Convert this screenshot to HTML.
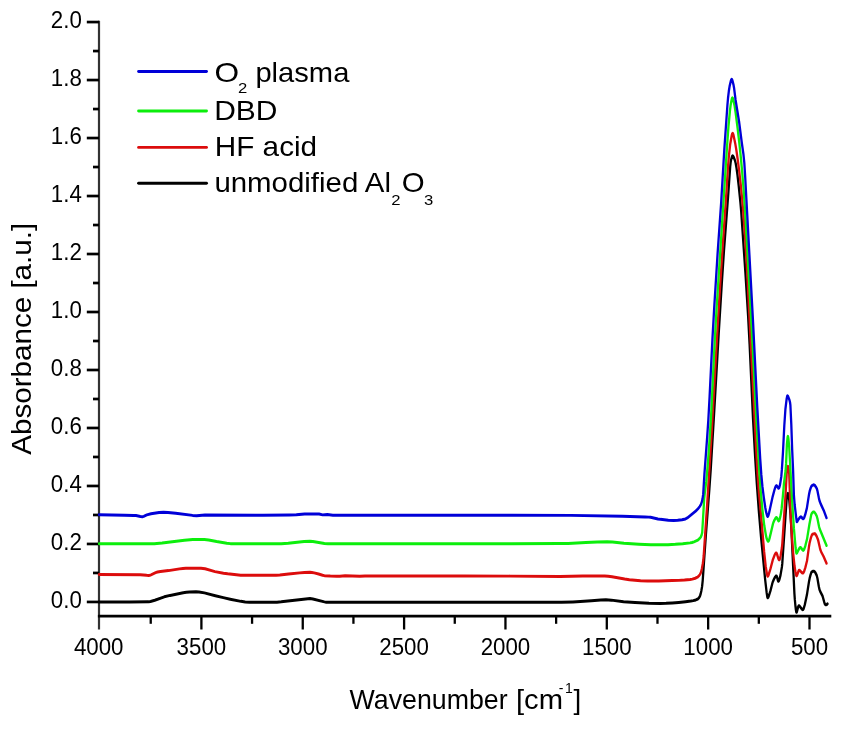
<!DOCTYPE html>
<html><head><meta charset="utf-8"><title>FTIR spectra</title>
<style>
html,body{margin:0;padding:0;background:#fff;}
svg{display:block;}
.wrap{width:844px;height:734px;}
text{font-family:"Liberation Sans",Arial,sans-serif;fill:#000;}
.tk{font-size:22.3px;}
.lg{font-size:27.5px;}
.sb{font-size:14.5px;}
.tt{font-size:27.8px;}
.sp{font-size:14px;}
</style></head>
<body>
<div class="wrap">
<svg width="844" height="734" viewBox="0 0 844 734">
<rect width="844" height="734" fill="#fff"/>
<line x1="99.0" y1="20.8" x2="99.0" y2="629.6" stroke="#333" stroke-width="2.2"/>
<line x1="97.9" y1="616.1" x2="831.3" y2="616.1" stroke="#000" stroke-width="2.9"/>
<line x1="86.8" y1="601.95" x2="99.0" y2="601.95" stroke="#000" stroke-width="2.7"/>
<text transform="translate(81.8,607.95) scale(1,1.08)" class="tk" text-anchor="end">0.0</text>
<line x1="93.0" y1="572.96" x2="99.0" y2="572.96" stroke="#000" stroke-width="2.7"/>
<line x1="86.8" y1="543.96" x2="99.0" y2="543.96" stroke="#000" stroke-width="2.7"/>
<text transform="translate(81.8,549.96) scale(1,1.08)" class="tk" text-anchor="end">0.2</text>
<line x1="93.0" y1="514.97" x2="99.0" y2="514.97" stroke="#000" stroke-width="2.7"/>
<line x1="86.8" y1="485.97" x2="99.0" y2="485.97" stroke="#000" stroke-width="2.7"/>
<text transform="translate(81.8,491.97) scale(1,1.08)" class="tk" text-anchor="end">0.4</text>
<line x1="93.0" y1="456.98" x2="99.0" y2="456.98" stroke="#000" stroke-width="2.7"/>
<line x1="86.8" y1="427.98" x2="99.0" y2="427.98" stroke="#000" stroke-width="2.7"/>
<text transform="translate(81.8,433.98) scale(1,1.08)" class="tk" text-anchor="end">0.6</text>
<line x1="93.0" y1="398.99" x2="99.0" y2="398.99" stroke="#000" stroke-width="2.7"/>
<line x1="86.8" y1="369.99" x2="99.0" y2="369.99" stroke="#000" stroke-width="2.7"/>
<text transform="translate(81.8,375.99) scale(1,1.08)" class="tk" text-anchor="end">0.8</text>
<line x1="93.0" y1="341.00" x2="99.0" y2="341.00" stroke="#000" stroke-width="2.7"/>
<line x1="86.8" y1="312.00" x2="99.0" y2="312.00" stroke="#000" stroke-width="2.7"/>
<text transform="translate(81.8,318.00) scale(1,1.08)" class="tk" text-anchor="end">1.0</text>
<line x1="93.0" y1="283.01" x2="99.0" y2="283.01" stroke="#000" stroke-width="2.7"/>
<line x1="86.8" y1="254.01" x2="99.0" y2="254.01" stroke="#000" stroke-width="2.7"/>
<text transform="translate(81.8,260.01) scale(1,1.08)" class="tk" text-anchor="end">1.2</text>
<line x1="93.0" y1="225.02" x2="99.0" y2="225.02" stroke="#000" stroke-width="2.7"/>
<line x1="86.8" y1="196.02" x2="99.0" y2="196.02" stroke="#000" stroke-width="2.7"/>
<text transform="translate(81.8,202.02) scale(1,1.08)" class="tk" text-anchor="end">1.4</text>
<line x1="93.0" y1="167.03" x2="99.0" y2="167.03" stroke="#000" stroke-width="2.7"/>
<line x1="86.8" y1="138.03" x2="99.0" y2="138.03" stroke="#000" stroke-width="2.7"/>
<text transform="translate(81.8,144.03) scale(1,1.08)" class="tk" text-anchor="end">1.6</text>
<line x1="93.0" y1="109.04" x2="99.0" y2="109.04" stroke="#000" stroke-width="2.7"/>
<line x1="86.8" y1="80.04" x2="99.0" y2="80.04" stroke="#000" stroke-width="2.7"/>
<text transform="translate(81.8,86.04) scale(1,1.08)" class="tk" text-anchor="end">1.8</text>
<line x1="93.0" y1="51.05" x2="99.0" y2="51.05" stroke="#000" stroke-width="2.7"/>
<line x1="86.8" y1="22.05" x2="99.0" y2="22.05" stroke="#000" stroke-width="2.7"/>
<text transform="translate(81.8,28.05) scale(1,1.08)" class="tk" text-anchor="end">2.0</text>
<line x1="150.73" y1="616.1" x2="150.73" y2="623.8" stroke="#000" stroke-width="2.3"/>
<line x1="201.40" y1="616.1" x2="201.40" y2="629.5" stroke="#000" stroke-width="2.3"/>
<line x1="252.07" y1="616.1" x2="252.07" y2="623.8" stroke="#000" stroke-width="2.3"/>
<line x1="302.75" y1="616.1" x2="302.75" y2="629.5" stroke="#000" stroke-width="2.3"/>
<line x1="353.43" y1="616.1" x2="353.43" y2="623.8" stroke="#000" stroke-width="2.3"/>
<line x1="404.10" y1="616.1" x2="404.10" y2="629.5" stroke="#000" stroke-width="2.3"/>
<line x1="454.77" y1="616.1" x2="454.77" y2="623.8" stroke="#000" stroke-width="2.3"/>
<line x1="505.45" y1="616.1" x2="505.45" y2="629.5" stroke="#000" stroke-width="2.3"/>
<line x1="556.12" y1="616.1" x2="556.12" y2="623.8" stroke="#000" stroke-width="2.3"/>
<line x1="606.80" y1="616.1" x2="606.80" y2="629.5" stroke="#000" stroke-width="2.3"/>
<line x1="657.48" y1="616.1" x2="657.48" y2="623.8" stroke="#000" stroke-width="2.3"/>
<line x1="708.15" y1="616.1" x2="708.15" y2="629.5" stroke="#000" stroke-width="2.3"/>
<line x1="758.82" y1="616.1" x2="758.82" y2="623.8" stroke="#000" stroke-width="2.3"/>
<line x1="809.50" y1="616.1" x2="809.50" y2="629.5" stroke="#000" stroke-width="2.3"/>
<text transform="translate(98.70,654.8) scale(1,1.08)" class="tk" text-anchor="middle">4000</text>
<text transform="translate(201.40,654.8) scale(1,1.08)" class="tk" text-anchor="middle">3500</text>
<text transform="translate(302.75,654.8) scale(1,1.08)" class="tk" text-anchor="middle">3000</text>
<text transform="translate(404.10,654.8) scale(1,1.08)" class="tk" text-anchor="middle">2500</text>
<text transform="translate(505.45,654.8) scale(1,1.08)" class="tk" text-anchor="middle">2000</text>
<text transform="translate(606.80,654.8) scale(1,1.08)" class="tk" text-anchor="middle">1500</text>
<text transform="translate(708.15,654.8) scale(1,1.08)" class="tk" text-anchor="middle">1000</text>
<text transform="translate(809.50,654.8) scale(1,1.08)" class="tk" text-anchor="middle">500</text>
<g transform="translate(0,0.3) scale(1,1.3)">
<polyline fill="none" stroke="#000000" stroke-width="2.3" stroke-linejoin="round" stroke-linecap="round" points="99.0,462.92 129.6,462.88 148.7,462.74 150.5,462.47 154.8,461.52 164.3,458.86 170.1,457.77 183.2,455.74 186.4,455.32 189.6,455.09 196.0,455.00 199.0,455.11 204.4,455.83 215.3,458.04 223.3,459.50 230.2,460.68 240.9,462.35 245.2,462.84 249.4,462.95 268.6,463.07 277.0,463.01 281.2,462.73 307.9,460.34 310.0,460.23 311.4,460.30 312.9,460.52 324.4,462.75 326.2,462.99 327.8,463.08 561.5,463.07 572.9,462.76 591.4,461.86 600.8,461.29 605.9,461.15 611.4,461.41 623.6,462.60 635.0,463.23 649.0,463.84 660.2,464.00 666.1,463.89 672.2,463.64 678.7,463.23 685.6,462.65 690.8,462.15 693.3,461.80 695.8,461.25 697.8,460.56 698.7,459.89 699.6,458.85 700.1,457.98 700.6,456.75 701.3,454.43 702.1,450.92 702.7,446.39 705.9,410.98 709.4,375.69 710.7,361.14 714.1,317.89 718.8,255.12 721.8,217.75 724.0,192.31 728.0,151.81 730.2,127.89 730.6,124.98 731.0,123.08 731.9,120.45 732.3,119.78 732.6,119.62 733.1,119.85 733.6,120.46 735.0,123.31 735.7,125.47 736.5,128.97 737.5,134.60 738.7,142.68 740.4,155.41 741.2,162.58 745.4,209.39 748.1,242.84 749.6,264.43 753.0,321.60 755.0,349.50 756.8,371.51 758.9,393.53 761.0,412.49 765.1,445.24 766.7,455.94 767.3,458.92 767.5,459.43 767.6,459.57 767.8,459.60 768.2,459.29 768.6,458.65 770.4,454.39 772.6,447.74 773.8,445.57 774.9,443.91 775.8,443.01 776.2,442.82 776.6,442.81 777.0,443.54 777.9,446.33 778.2,446.81 778.4,446.83 778.9,446.46 779.4,445.59 780.5,442.24 781.9,435.92 782.3,433.00 786.6,384.11 787.1,381.15 787.5,379.81 787.7,379.39 787.9,379.23 788.1,379.42 788.4,380.29 789.3,384.78 790.5,395.52 791.4,406.90 794.4,456.18 794.8,460.67 795.5,466.36 795.9,468.99 796.3,470.55 796.4,470.71 796.6,470.74 796.9,470.36 798.2,466.55 798.7,465.72 799.2,465.78 799.7,466.09 801.6,468.10 802.4,468.68 802.8,468.77 803.1,468.66 803.7,467.89 804.8,464.98 806.9,457.42 808.9,447.62 809.7,444.46 810.7,441.51 811.4,440.02 811.8,439.62 813.1,439.14 814.0,439.12 814.7,439.55 815.6,440.60 816.7,442.34 817.4,444.51 818.8,450.84 819.5,453.30 820.3,454.88 822.6,458.35 824.3,463.08 824.9,464.40 825.4,464.91 826.0,464.91 826.8,464.73 827.5,464.23"/>
<polyline fill="none" stroke="#dc0c0c" stroke-width="2.3" stroke-linejoin="round" stroke-linecap="round" points="99.0,441.77 140.2,441.85 146.7,442.32 148.8,442.38 149.8,442.26 151.0,441.96 155.6,440.22 157.5,439.72 160.5,439.37 168.5,438.70 179.5,437.37 182.9,437.07 185.9,436.93 201.0,436.92 203.0,437.03 205.1,437.31 215.0,439.48 223.5,440.69 227.7,441.15 236.4,441.90 240.7,442.18 244.4,442.30 276.1,442.27 279.8,442.06 288.6,441.26 299.7,440.44 304.5,440.17 310.0,440.00 311.9,440.11 314.2,440.44 318.6,441.27 322.6,442.26 324.4,442.57 330.3,442.85 336.7,442.99 339.8,442.99 345.1,442.69 359.8,443.08 365.0,442.85 462.7,442.88 510.1,442.94 560.1,443.23 582.9,442.78 604.7,442.85 608.2,443.00 612.0,443.36 624.7,445.18 629.4,445.72 640.6,446.47 647.7,446.69 658.7,446.62 672.2,446.39 678.8,446.21 684.5,445.94 690.1,445.53 692.3,445.24 695.2,444.57 697.5,443.72 698.7,442.92 699.8,441.86 700.5,440.94 701.1,439.65 701.9,437.15 702.8,433.33 703.3,430.64 703.7,427.31 707.2,387.30 711.5,334.66 717.0,259.13 719.9,222.16 722.6,190.01 726.0,152.69 727.9,129.09 728.9,119.71 730.1,111.26 731.7,104.05 732.2,102.69 732.6,102.31 733.0,102.62 733.5,103.73 735.2,109.98 736.3,114.93 737.6,121.95 739.2,131.40 740.7,141.43 742.1,152.18 743.2,162.06 745.2,183.90 747.2,209.42 756.1,344.03 757.7,365.84 758.9,378.13 761.4,399.12 764.1,423.81 765.7,435.31 767.1,441.89 767.4,442.75 767.7,443.08 768.1,442.84 768.5,442.21 770.4,437.44 772.7,430.66 774.5,426.92 775.4,425.55 775.8,425.20 776.1,425.08 776.3,425.09 776.6,425.34 777.1,426.24 778.4,429.52 778.8,430.20 779.1,430.44 779.4,430.39 779.8,429.84 780.6,427.40 781.9,421.00 782.3,417.91 785.5,380.77 786.7,363.94 787.3,360.05 787.6,358.92 787.9,358.46 788.2,358.83 788.6,360.25 789.2,364.11 790.8,398.48 792.4,417.89 793.4,426.96 794.5,434.87 795.3,439.21 796.2,442.34 796.5,442.69 796.7,442.62 797.0,442.30 798.5,439.10 798.8,438.64 799.1,438.40 799.5,438.43 800.0,438.67 801.8,440.19 802.6,440.60 803.0,440.58 803.3,440.41 804.1,439.34 805.3,436.51 807.0,431.22 809.0,420.07 809.7,417.08 810.9,413.51 811.7,411.69 812.3,410.90 813.4,410.43 814.5,410.23 815.1,410.39 815.9,411.17 816.8,412.57 818.1,415.15 819.9,421.26 820.6,423.15 821.5,424.76 823.6,427.86 826.5,433.08"/>
<polyline fill="none" stroke="#0cee0c" stroke-width="2.3" stroke-linejoin="round" stroke-linecap="round" points="99.0,418.08 154.3,418.04 162.1,417.52 184.5,415.26 192.8,414.86 204.5,414.85 206.5,414.92 208.7,415.14 216.6,416.36 226.8,417.62 230.4,417.95 233.6,418.08 281.2,418.05 288.2,417.67 304.1,416.36 309.9,416.08 312.9,416.26 324.5,417.84 328.0,418.08 511.4,418.07 558.9,417.93 568.1,417.76 585.8,417.06 597.3,416.71 607.1,416.54 612.4,416.74 624.0,417.64 639.0,418.34 650.8,418.75 660.7,418.84 668.0,418.72 675.3,418.44 682.7,417.99 690.1,417.37 692.0,417.08 694.0,416.57 696.7,415.66 698.2,414.98 699.6,414.04 700.8,412.83 701.6,411.37 702.2,409.43 704.2,383.54 704.8,378.98 706.3,369.99 708.0,354.91 709.6,337.55 711.2,317.84 714.7,262.52 716.5,238.03 727.0,112.71 728.5,96.72 730.0,84.57 730.6,80.93 731.4,77.42 731.9,75.70 732.2,75.12 732.4,75.00 732.8,75.34 733.2,76.23 734.7,81.60 735.6,86.32 737.6,98.40 739.3,109.65 740.8,120.72 742.2,132.26 743.5,144.42 745.3,164.77 750.5,235.58 752.4,262.62 756.0,317.38 759.3,362.49 760.8,378.18 762.4,391.58 764.3,404.14 766.0,411.91 766.6,413.79 767.4,415.37 768.0,416.10 768.3,416.14 768.5,416.01 769.0,415.23 769.5,413.95 773.0,402.69 773.4,401.73 774.6,399.63 775.7,398.22 776.2,397.90 776.6,397.86 777.1,398.34 778.2,400.18 778.5,400.48 778.8,400.52 779.1,400.27 779.5,399.54 780.4,396.82 781.0,394.56 781.6,391.12 782.8,382.05 783.9,372.33 785.6,361.76 786.1,356.41 786.9,341.83 787.5,336.77 787.7,335.76 787.9,335.38 788.1,335.71 788.4,337.14 789.2,343.63 792.1,384.64 793.9,406.05 795.6,421.17 796.0,423.90 796.3,425.12 796.5,425.38 797.0,425.07 798.4,422.81 799.6,421.33 800.2,420.88 800.6,420.88 801.0,421.12 802.4,422.70 803.0,423.12 803.3,423.14 803.6,423.00 804.3,422.08 805.4,419.44 807.1,414.16 809.4,403.10 811.2,395.87 811.8,394.62 812.7,393.88 813.4,393.57 814.1,393.62 814.8,394.10 815.6,395.04 816.7,396.71 817.4,398.59 819.0,404.68 819.7,406.69 826.5,419.38"/>
<polyline fill="none" stroke="#0000d8" stroke-width="2.3" stroke-linejoin="round" stroke-linecap="round" points="99.0,395.77 124.5,396.06 133.7,396.26 136.0,396.38 140.4,397.09 142.4,397.23 143.7,396.98 146.8,395.82 151.0,395.01 159.1,394.01 163.6,393.77 168.0,393.93 175.7,394.52 192.6,396.22 196.7,396.46 204.9,396.00 262.9,396.08 289.4,395.92 296.3,395.81 304.6,395.24 317.7,395.08 319.1,395.17 322.6,395.83 327.3,395.62 332.9,396.08 511.9,396.08 570.9,396.21 622.4,396.83 645.0,397.40 648.8,397.56 650.6,397.72 657.9,398.96 660.4,399.28 668.3,399.89 673.7,400.08 677.7,399.95 682.0,399.50 685.5,398.94 687.3,398.22 695.8,392.85 697.9,391.20 699.8,389.37 701.0,387.67 701.9,385.69 702.6,383.18 703.2,379.88 704.4,364.64 707.2,335.74 708.3,323.08 709.6,304.86 712.4,260.96 714.2,236.49 717.8,192.31 721.2,155.05 724.3,114.93 727.4,80.81 728.0,75.41 728.8,70.08 729.6,66.12 730.9,61.87 731.3,61.07 731.7,60.77 732.1,61.07 732.6,62.13 733.6,65.38 734.0,67.12 735.6,76.67 739.2,93.94 741.8,109.58 743.4,118.17 744.3,124.88 745.1,134.69 752.9,245.17 757.3,313.17 760.2,352.50 761.3,364.75 762.4,373.78 764.0,383.52 765.3,390.25 766.0,393.21 766.8,395.61 767.3,396.74 767.7,397.08 768.1,396.79 768.5,396.02 769.0,394.57 772.7,381.62 774.5,376.53 775.3,374.62 776.0,373.56 776.3,373.35 776.6,373.32 777.1,373.69 778.2,375.11 778.5,375.34 778.8,375.37 779.1,375.09 779.4,374.52 780.1,372.24 781.3,366.33 781.9,360.85 783.0,347.32 784.3,327.29 785.4,314.65 786.6,306.83 787.1,304.81 787.3,304.38 787.5,304.23 787.8,304.39 788.1,304.80 789.5,307.58 790.1,309.55 790.4,311.52 791.3,326.15 792.2,346.15 793.1,361.54 793.9,380.62 794.7,388.26 796.7,401.03 796.9,401.14 797.2,400.95 798.4,399.34 799.8,397.84 800.5,397.36 800.9,397.32 801.2,397.42 802.6,398.61 803.1,398.84 803.6,398.69 804.2,397.94 805.2,395.68 806.9,390.57 809.0,380.15 809.7,377.54 810.7,375.08 811.4,373.86 811.7,373.54 812.4,373.09 813.5,372.70 814.2,372.79 815.0,373.32 815.9,374.30 816.8,375.57 817.5,377.54 818.9,382.99 819.6,385.15 820.7,387.37 824.1,393.10 826.5,398.08"/>
</g>


<line x1="138.6" y1="71.5" x2="206.5" y2="71.5" stroke="#0000d8" stroke-width="2.9" stroke-linecap="round"/>
<line x1="138.6" y1="111.0" x2="206.5" y2="111.0" stroke="#0cee0c" stroke-width="2.9" stroke-linecap="round"/>
<line x1="138.6" y1="147.4" x2="206.5" y2="147.4" stroke="#dc0c0c" stroke-width="2.9" stroke-linecap="round"/>
<line x1="138.6" y1="183.2" x2="206.5" y2="183.2" stroke="#000" stroke-width="2.9" stroke-linecap="round"/>
<text class="lg" transform="translate(214.6,81.6) scale(1.15,1)">O</text>
<text class="sb" transform="translate(238.0,92.8) scale(1.15,1)">2</text>
<text class="lg" transform="translate(255.4,81.6) scale(1.06,1)">plasma</text>
<text class="lg" transform="translate(214.2,120.3) scale(1.09,1)">DBD</text>
<text class="lg" transform="translate(214.8,156.3) scale(1.08,1)">HF acid</text>
<text class="lg" transform="translate(214.4,192.1) scale(1.07,1)">unmodified Al</text>
<text class="sb" transform="translate(391.3,204.6) scale(1.15,1)">2</text>
<text class="lg" transform="translate(401.8,192.1) scale(1.07,1)">O</text>
<text class="sb" transform="translate(424.0,204.6) scale(1.15,1)">3</text>


<text class="tt" x="349.6" y="708.8" textLength="158" lengthAdjust="spacingAndGlyphs">Wavenumber</text><text class="tt" x="516" y="708.8" textLength="47" lengthAdjust="spacingAndGlyphs">[cm</text><text class="sp" x="558.8" y="692.8">-</text><text class="sp" x="565" y="692.8">1</text><text class="tt" x="573.6" y="708.8">]</text>
<text class="tt" transform="translate(31.3,454.8) rotate(-90)" x="0" y="0" textLength="232" lengthAdjust="spacingAndGlyphs">Absorbance [a.u.]</text>

</svg>
</div>
</body></html>
